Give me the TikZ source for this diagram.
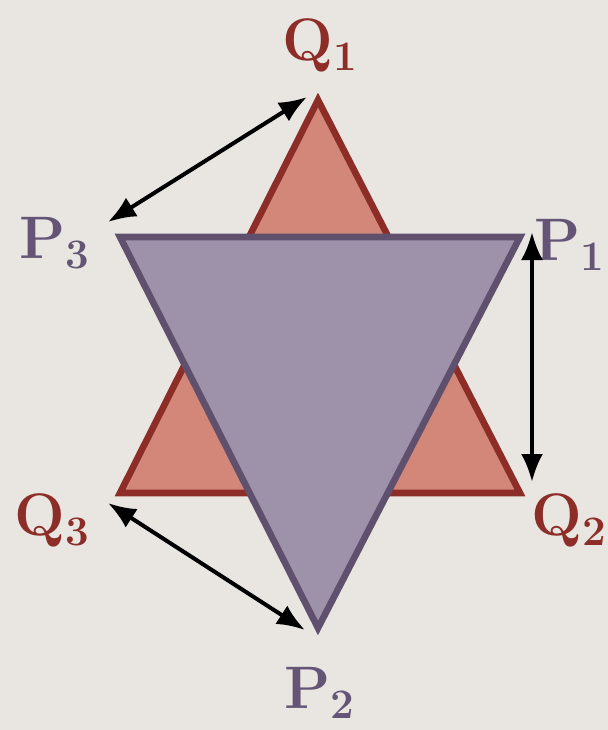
\documentclass[tikz,border=0pt]{standalone}
\usetikzlibrary{arrows.meta, positioning}
\definecolor{bgcol}{RGB}{233,230,225}
\definecolor{qline}{RGB}{140,45,40}
\definecolor{qfill}{RGB}{210,135,120}
\definecolor{pline}{RGB}{95,80,110}
\definecolor{pfill}{RGB}{157,146,170}
\definecolor{ptext}{RGB}{100,85,118}

\begin{document}
\begin{tikzpicture}[x=0.5pt, y=-0.5pt,
    qtri/.style={draw=qline, fill=qfill, line width=3.3pt, line join=miter},
    ptri/.style={draw=pline, fill=pfill, line width=3.3pt, line join=miter},
    qlabel/.style={text=qline, font=\fontsize{30}{30}\selectfont\bfseries},
    plabel/.style={text=ptext, font=\fontsize{30}{30}\selectfont\bfseries},
    swap/.style={{Latex[length=14pt,width=11pt]}-{Latex[length=14pt,width=11pt]}, line width=2pt, black}]
    % background
    \useasboundingbox (0,0) rectangle (608,730);
    \fill[bgcol] (0,0) rectangle (608,730);
    % corners of the two triangles
    \coordinate (q1) at (318,100);
    \coordinate (q2) at (520,493);
    \coordinate (q3) at (120,493);
    \coordinate (p1) at (520,237);
    \coordinate (p2) at (318,628);
    \coordinate (p3) at (120,237);
    % triangles
    \draw[qtri] (q1) -- (q2) -- (q3) -- cycle;
    \draw[ptri] (p1) -- (p2) -- (p3) -- cycle;
    % labels
    \node[qlabel] (lq1) at (320,45) {Q\textsubscript{1}};
    \node[qlabel] (lq2) at (569,520) {Q\textsubscript{2}};
    \node[qlabel] (lq3) at (52,520) {Q\textsubscript{3}};
    \node[plabel] (lp1) at (570,245) {P\textsubscript{1}};
    \node[plabel] (lp2) at (320,693) {P\textsubscript{2}};
    \node[plabel] (lp3) at (55,243) {P\textsubscript{3}};
    % arrow ends
    \coordinate (a1) at (307,97);
    \coordinate (b1) at (108,222);
    \coordinate (a2) at (532,232);
    \coordinate (b2) at (532,482);
    \coordinate (a3) at (108,503);
    \coordinate (b3) at (305,630);
    % double arrows
    \draw[swap] (a1) -- (b1);
    \draw[swap] (a2) -- (b2);
    \draw[swap] (a3) -- (b3);
\end{tikzpicture}
\end{document}
